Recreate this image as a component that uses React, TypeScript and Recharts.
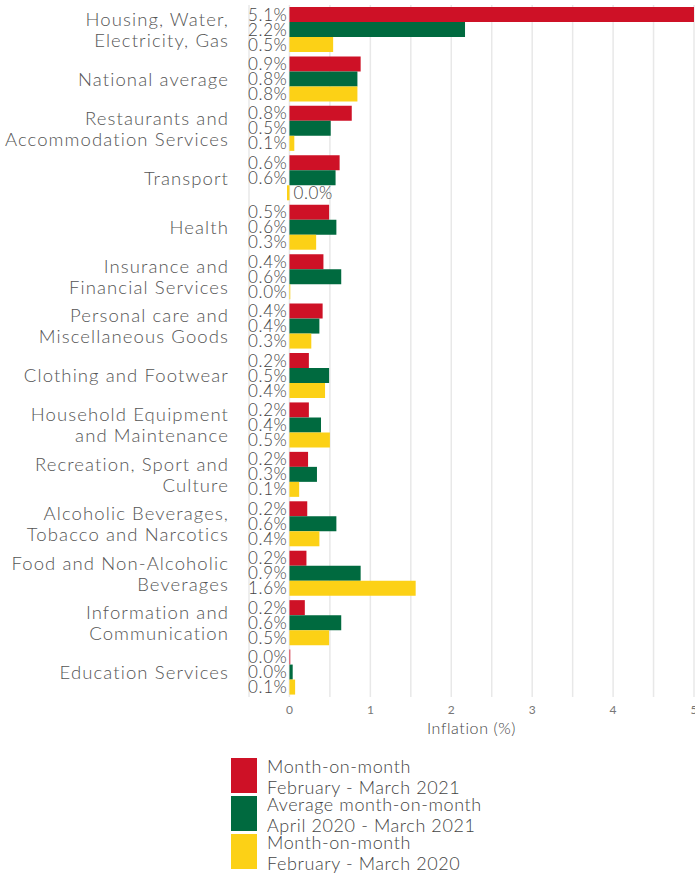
import React from 'react';
import { BarChart, Bar, XAxis, YAxis, CartesianGrid, LabelList } from 'recharts';

const categories = [
  'Housing, Water,\nElectricity, Gas',
  'National average',
  'Restaurants and\nAccommodation Services',
  'Transport',
  'Health',
  'Insurance and\nFinancial Services',
  'Personal care and\nMiscellaneous Goods',
  'Clothing and Footwear',
  'Household Equipment\nand Maintenance',
  'Recreation, Sport and\nCulture',
  'Alcoholic Beverages,\nTobacco and Narcotics',
  'Food and Non-Alcoholic\nBeverages',
  'Information and\nCommunication',
  'Education Services',
];

const momMar2021 = [5.1, 0.88, 0.77, 0.62, 0.49, 0.42, 0.41, 0.24, 0.24, 0.23, 0.22, 0.21, 0.19, 0.01];
const avgMom = [2.17, 0.84, 0.51, 0.57, 0.58, 0.64, 0.37, 0.49, 0.39, 0.34, 0.58, 0.88, 0.64, 0.04];
const momMar2020 = [0.54, 0.84, 0.06, -0.03, 0.33, 0.01, 0.27, 0.44, 0.5, 0.12, 0.37, 1.56, 0.49, 0.07];

const gridTicks = [-0.5, 0, 0.5, 1, 1.5, 2, 2.5, 3, 3.5, 4, 4.5, 5];

const series = [
  { key: 'mom2021', color: '#CE1126', lines: ['Month-on-month', 'February - March 2021'] },
  { key: 'avg', color: '#006A3F', lines: ['Average month-on-month', 'April 2020 - March 2021'] },
  { key: 'mom2020', color: '#FCD116', lines: ['Month-on-month', 'February - March 2020'] },
];

const data = categories.map((name, i) => ({
  name,
  mom2021: momMar2021[i],
  avg: avgMom[i],
  mom2020: momMar2020[i],
}));

const FONT = 'Lato, sans-serif';

const fmt = (v: number) => (Math.abs(v) < 0.05 ? 0 : v).toFixed(1) + '%';

const ValueLabel = (props: any) => {
  const { x, y, height, value } = props;
  const neg = value < 0;
  return (
    <text
      x={neg ? x + 4 : x - 2}
      y={y + height / 2}
      dy="0.36em"
      textAnchor={neg ? 'start' : 'end'}
      fontFamily={FONT}
      fontWeight={300}
      fontSize={17}
      letterSpacing={0.6}
      fill="#444"
    >
      {fmt(value)}
    </text>
  );
};

const CategoryTick = (props: any) => {
  const { x, y, payload } = props;
  const lines = String(payload.value).split('\n');
  const lh = 21;
  const start = -((lines.length - 1) * lh) / 2;
  return (
    <text
      x={x}
      y={y}
      textAnchor="end"
      fontFamily={FONT}
      fontWeight={300}
      fontSize={18.5}
      letterSpacing={1.1}
      fill="#555"
    >
      {lines.map((l, i) => (
        <tspan key={i} x={x} y={y + start + i * lh} dy="0.36em">
          {l}
        </tspan>
      ))}
    </text>
  );
};

export default function App() {
  return (
    <div style={{ position: 'relative', width: 695, height: 874, background: '#fff' }}>
      <style>{'body{margin:0}'}</style>
      <BarChart
        width={695}
        height={745}
        data={data}
        layout="vertical"
        margin={{ top: 5, right: 1, left: 0, bottom: 0 }}
        barCategoryGap={2}
        barGap={0}
      >
        <CartesianGrid horizontal={false} stroke="#e8e8e8" strokeWidth={1.5} />
        <XAxis
          type="number"
          domain={[-0.5, 5]}
          allowDataOverflow
          ticks={gridTicks}
          interval={0}
          tickFormatter={(v: number) => (v >= 0 && Number.isInteger(v) ? String(v) : '')}
          axisLine={false}
          tickLine={false}
          height={48}
          tick={{ fontFamily: FONT, fontSize: 12, fill: '#777' }}
          label={{
            value: 'Inflation (%)',
            position: 'insideBottom',
            offset: 11,
            style: { fontFamily: FONT, fontSize: 16, fill: '#444', fontWeight: 300, letterSpacing: 0.6 },
          }}
        />
        <YAxis
          type="category"
          dataKey="name"
          width={249}
          axisLine={false}
          tickLine={false}
          tickSize={0}
          tickMargin={20}
          interval={0}
          tick={<CategoryTick />}
        />
        {series.map((s) => (
          <Bar key={s.key} dataKey={s.key} fill={s.color} isAnimationActive={false}>
            <LabelList dataKey={s.key} content={<ValueLabel />} />
          </Bar>
        ))}
      </BarChart>
      <div style={{ position: 'absolute', left: 231, top: 758 }}>
        {series.map((s) => (
          <div key={s.key} style={{ display: 'flex', alignItems: 'flex-start', height: 38 }}>
            <div style={{ width: 26, height: 35, background: s.color }} />
            <div
              style={{
                marginLeft: 10,
                marginTop: -2,
                fontFamily: FONT,
                fontWeight: 300,
                fontSize: 18,
                lineHeight: '21px',
                letterSpacing: 0.6,
                color: '#444',
              }}
            >
              {s.lines.map((l, i) => (
                <div key={i}>{l}</div>
              ))}
            </div>
          </div>
        ))}
      </div>
    </div>
  );
}
